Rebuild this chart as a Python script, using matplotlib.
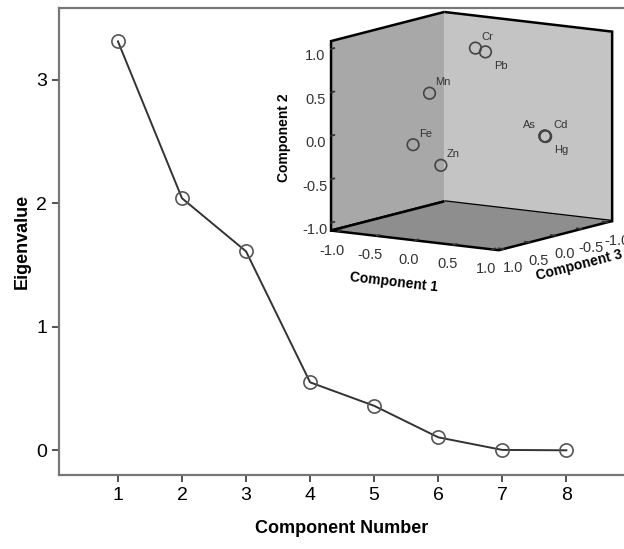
import numpy as np
import matplotlib
matplotlib.use("Agg")
import matplotlib.pyplot as plt
from mpl_toolkits.mplot3d import Axes3D, proj3d

plt.rcParams['font.family'] = ['Liberation Sans Narrow', 'Liberation Sans', 'DejaVu Sans']

# scree plot data
components = [1, 2, 3, 4, 5, 6, 7, 8]
eigenvalues = [3.31, 2.04, 1.61, 0.55, 0.36, 0.105, 0.003, 0.0]

# rotated component loadings
elements = ['Cr', 'Pb', 'Mn', 'Fe', 'Zn', 'As', 'Cd', 'Hg']
comp1 = [0.05, 0.18, 0.0, -0.2, 0.1, 0.95, 0.96, 0.955]
comp2 = [0.96, 0.93, 0.56, -0.05, -0.27, 0.04, 0.045, 0.035]
comp3 = [0.0, 0.0, 0.81, 0.83, 0.74, 0.0, 0.01, -0.01]
# label placement (screen offsets in points)
lab_off = [(4, 8), (6, -10), (4, 8), (4, 8), (4, 8), (-16, 8), (6, 8), (6, -10)]

fig = plt.figure(figsize=(6.24, 5.49), dpi=100)
ax = fig.add_axes([59/624, 1-475/549, 1-59/624, (475-8)/549])
ax.plot(components, eigenvalues, color='#333333', lw=1.4, marker='o', ms=9.5,
        mfc='none', mec='#555555', mew=1.2)
ax.set_xlim(0.08, 8.9)
ax.set_ylim(-0.2, 3.58)
ax.set_xticks(components)
ax.set_yticks([0, 1, 2, 3])
for s in ['left', 'bottom', 'top']:
    ax.spines[s].set_color('#777777')
    ax.spines[s].set_linewidth(1.6)
ax.spines['right'].set_visible(False)
ax.tick_params(labelsize=14, color='#444444', width=1.3, length=5)
ax.set_xlabel('Component Number', fontsize=13, fontweight='bold', labelpad=12)
ax.set_ylabel('Eigenvalue', fontsize=13, fontweight='bold', labelpad=4)

# 3D inset: x = component 3, y = component 1, z = component 2
ax3 = fig.add_axes([0.4215, 0.448, 0.654, 0.61], projection='3d')
ax3.set_proj_type('ortho')
ax3.view_init(elev=10, azim=34)
ax3.set_box_aspect((1, 1, 0.95))
ax3.scatter(comp3, comp1, comp2, s=70, facecolors='none', edgecolors='#444444',
            linewidths=1.2, depthshade=False)
lim = 1.09
ax3.set_xlim(-lim, lim)
ax3.set_ylim(-lim, lim)
ax3.set_zlim(-lim, lim)
ticks = [-1.0, -0.5, 0.0, 0.5, 1.0]
ax3.set_xticks(ticks)
ax3.set_yticks(ticks)
ax3.set_zticks(ticks)
ax3.set_xticklabels([f'{t:.1f}' for t in ticks], fontsize=10.5)
ax3.set_yticklabels([f'{t:.1f}' for t in ticks], fontsize=10.5)
ax3.set_zticklabels([f'{t:.1f}' for t in ticks], fontsize=10.5)
ax3.set_xlabel('Component 3', fontsize=10, fontweight='bold', labelpad=-3)
ax3.set_ylabel('Component 1', fontsize=10, fontweight='bold', labelpad=3)
ax3.set_zlabel('Component 2', fontsize=10, fontweight='bold', labelpad=0)
ax3.grid(False)
ax3.patch.set_alpha(0)
pane_cols = {'x': '#c4c4c4', 'y': '#a8a8a8', 'z': '#8e8e8e'}
for key, axis in zip('xyz', [ax3.xaxis, ax3.yaxis, ax3.zaxis]):
    axis.set_pane_color(pane_cols[key])
    axis.pane.set_edgecolor('black')
    axis.pane.set_linewidth(1.8)
    axis.line.set_color('none')
    axis.set_tick_params(pad=-1, colors='#333333')
    axis._axinfo['tick']['inward_factor'] = 0.0
    axis._axinfo['tick']['outward_factor'] = 0.35
    axis._axinfo['tick']['linewidth'] = {True: 1.3, False: 1.0}
    axis._axinfo['tick']['color'] = '#222222'

# point labels, anchored on the projected positions
fig.canvas.draw()
M = ax3.get_proj()
for name, a, b, c, off in zip(elements, comp3, comp1, comp2, lab_off):
    px, py, _ = proj3d.proj_transform(a, b, c, M)
    ax3.annotate(name, xy=(px, py), xytext=off, textcoords='offset points',
                 fontsize=8, color='#333333', ha='left', va='center')

fig.savefig('out.png', dpi=100)
